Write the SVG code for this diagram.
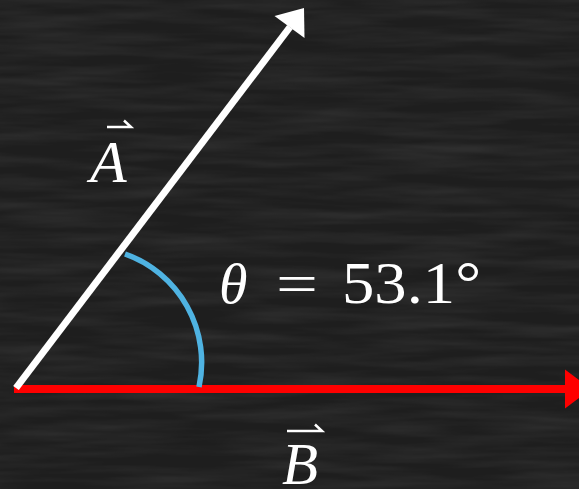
<svg xmlns="http://www.w3.org/2000/svg" width="579" height="489" viewBox="0 0 579 489">
  <defs>
    <filter id="chalk" x="0" y="0" width="100%" height="100%">
      <feTurbulence type="fractalNoise" baseFrequency="0.008 0.09" numOctaves="3" seed="7" result="n"/>
      <feColorMatrix in="n" type="matrix" values="0 0 0 0 1  0 0 0 0 1  0 0 0 0 1  0.9 0 0 0 -0.3"/>
    </filter>
    <style>
      .lbl { font-family: "Liberation Serif", "DejaVu Serif", serif; fill: #ffffff; }
      .it { font-style: italic; }
      .acc { fill: none; stroke: #ffffff; stroke-width: 2.5; stroke-linecap: butt; }
    </style>
  </defs>

  <g id="background">
    <rect width="579" height="489" fill="#1e1e1e"/>
    <rect width="579" height="489" filter="url(#chalk)" opacity="0.14"/>
  </g>

  <g id="connectors">
    <g id="vector-B">
      <line x1="14" y1="389" x2="566" y2="389" stroke="#ff0000" stroke-width="8"/>
      <polygon points="565,369.5 591,389 565,408.5" fill="#ff0000"/>
    </g>
    <g id="vector-A">
      <line x1="16" y1="388" x2="290" y2="27" stroke="#ffffff" stroke-width="7"/>
      <polygon points="304,8 304.5,38 274.5,16" fill="#ffffff"/>
    </g>
    <g id="angle-arc">
      <path d="M125,254 A115,115 0 0 1 199,387" fill="none" stroke="#4fb3e2" stroke-width="5.5"/>
    </g>
  </g>

  <g id="label-A">
    <text class="lbl it" x="90" y="182" font-size="60">A</text>
    <path class="acc" d="M107,127 L131,127 L124,120.5"/>
  </g>

  <g id="label-B">
    <text class="lbl it" x="282" y="484" font-size="59">B</text>
    <path class="acc" d="M287,431 L322,431 L315,424.5"/>
  </g>

  <g id="label-theta">
    <text class="lbl it" x="219" y="303" font-size="58">θ</text>
    <text class="lbl" x="276" y="303" font-size="58" textLength="42" lengthAdjust="spacingAndGlyphs">=</text>
    <text class="lbl" x="342" y="303" font-size="59" textLength="139" lengthAdjust="spacingAndGlyphs">53.1°</text>
  </g>
</svg>
